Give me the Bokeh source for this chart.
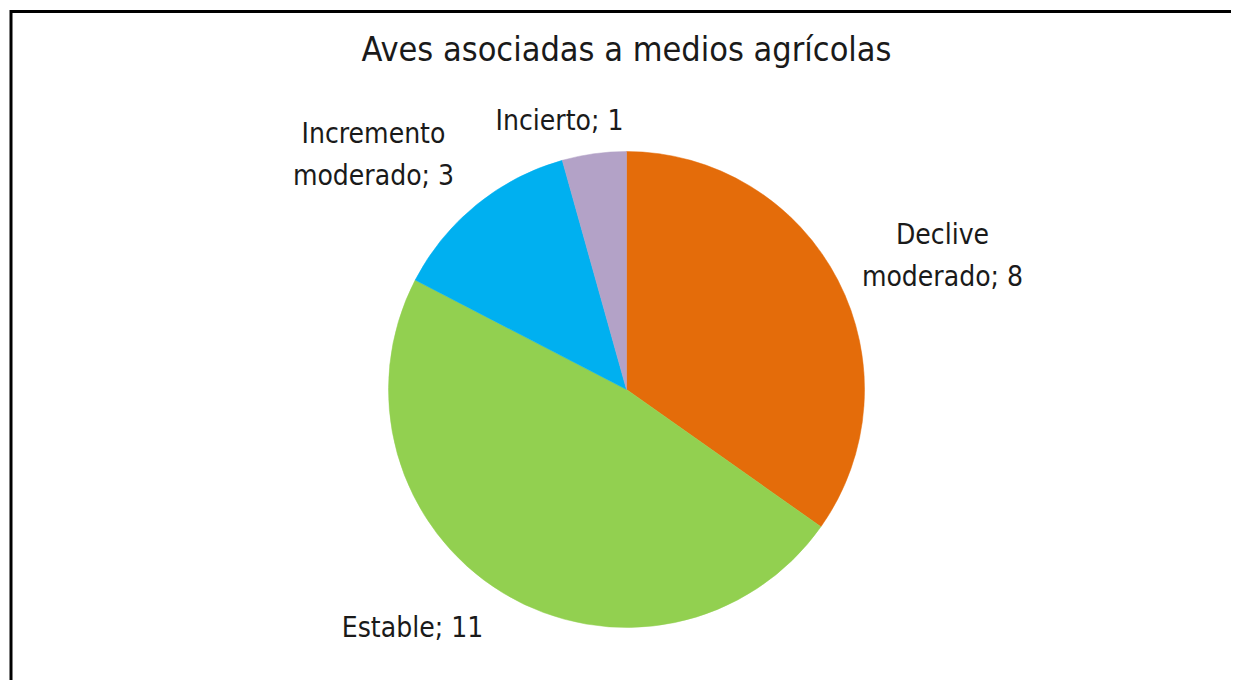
import math
from bokeh.plotting import figure
from bokeh.models import Range1d, ColumnDataSource, Label
from bokeh.core.properties import value
from bokeh.embed import file_html
from bokeh.resources import INLINE

# ---- data ----
title_text = "Aves asociadas a medios agrícolas"
categories = ["Declive\nmoderado", "Estable", "Incremento\nmoderado", "Incierto"]
values = [8, 11, 3, 1]
colors = ["#E46C0A", "#92D050", "#00B0F0", "#B3A2C7"]

# ---- layout (screen pixels) ----
W, H = 1231, 680
CX, CY, R = 626, 291, 238
label_offsets = [(316, 134), (-214, -238), (-253, 235), (-67, 269)]
FONT = "DejaVu Sans Condensed"
BORDER_L, BORDER_T = 10.5, H - 11

total = sum(values)
starts, ends, lx, ly, texts = [], [], [], [], []
cum = 0
for cat, v, (dx, dy) in zip(categories, values, label_offsets):
    a0 = math.pi / 2 - 2 * math.pi * cum / total
    cum += v
    a1 = math.pi / 2 - 2 * math.pi * cum / total
    starts.append(a0)
    ends.append(a1)
    lx.append(CX + dx)
    ly.append(CY + dy)
    texts.append(f"{cat}; {v}")

src = ColumnDataSource(dict(start=starts, end=ends, color=colors,
                            x=[CX] * len(values), y=[CY] * len(values)))
lsrc = ColumnDataSource(dict(x=lx, y=ly, text=texts))

p = figure(width=W, height=H, output_backend="svg", toolbar_location=None,
           x_range=Range1d(0, W), y_range=Range1d(0, H),
           min_border=0, outline_line_color=None)
p.axis.visible = False
p.grid.visible = False
p.background_fill_color = "white"
p.border_fill_color = "white"

p.wedge(x="x", y="y", radius=R, start_angle="start", end_angle="end",
        direction="clock", fill_color="color", line_color="color",
        line_width=0.5, source=src)

p.text(x="x", y="y", text="text", source=lsrc, text_font=value(FONT),
       text_font_size="28px", text_align="center", text_baseline="middle",
       text_color="#1a1a1a", text_line_height=1.3)

p.add_layout(Label(x=CX, y=H - 48, text=title_text, text_font=FONT,
                   text_font_size="34px", text_align="center",
                   text_baseline="middle", text_color="#1a1a1a"))

# frame border: only its left and top edges fall inside the picture
p.line(x=[BORDER_L, BORDER_L, W + 40], y=[-40, BORDER_T, BORDER_T],
       line_color="black", line_width=3, line_join="miter")

open("out.html", "w").write(file_html(p, INLINE))
